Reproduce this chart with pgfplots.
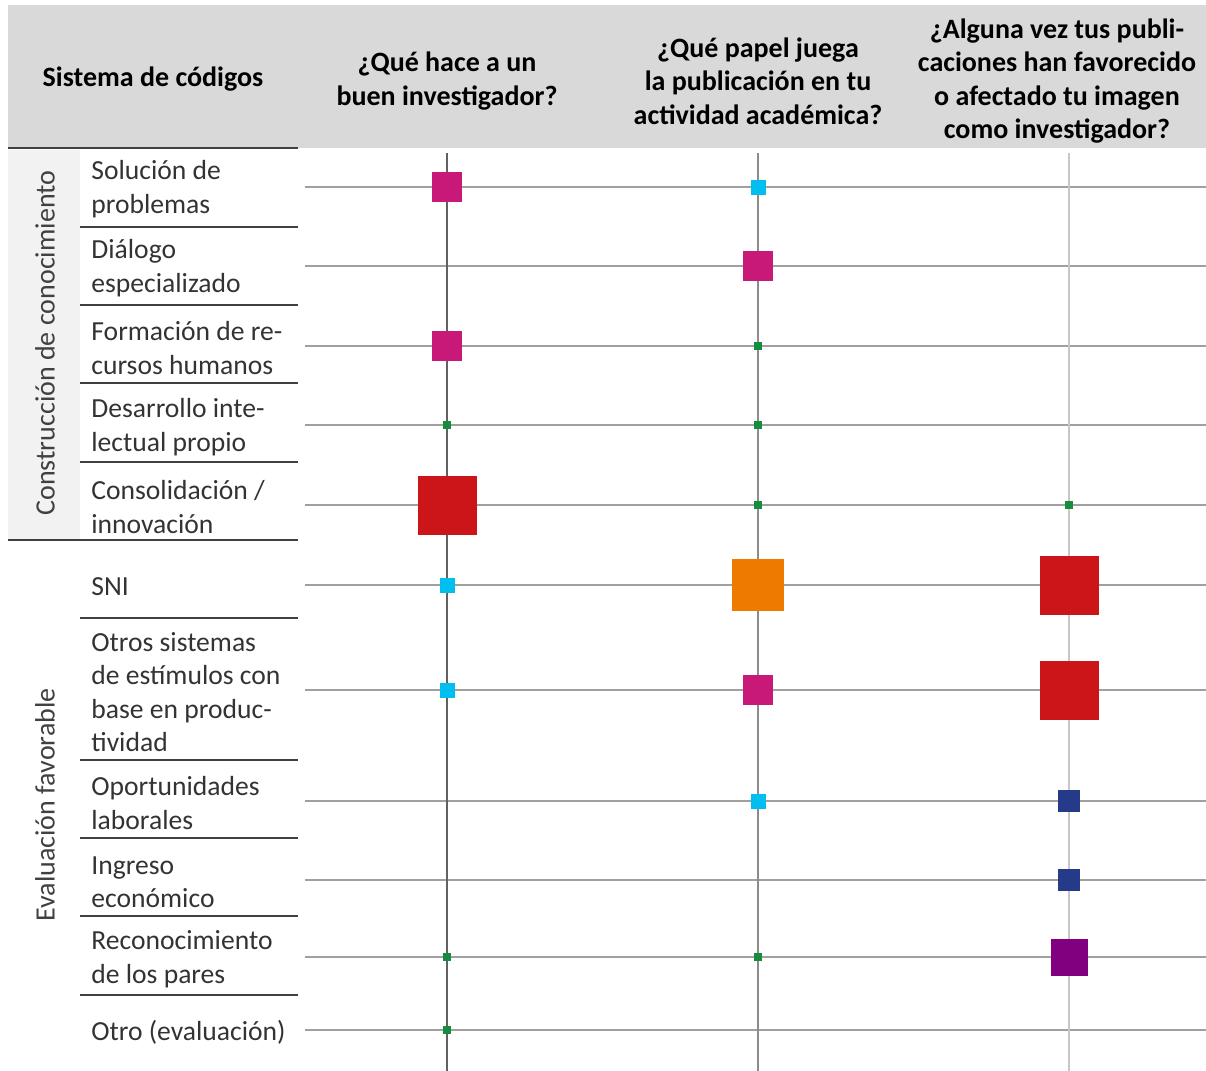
\documentclass[border=0pt]{standalone}
\usepackage{pgfplots}
\usepackage{pgfplotstable}
\usepackage{fontspec}
\setmainfont{Carlito}
\pgfplotsset{compat=1.18}

\definecolor{hdrgray}{RGB}{217,217,217}
\definecolor{grpgray}{RGB}{242,242,242}
\definecolor{sepcol}{RGB}{64,64,64}
\definecolor{gridcol}{RGB}{160,160,160}
\definecolor{cgreen}{RGB}{22,140,62}
\definecolor{ccyan}{RGB}{0,190,240}
\definecolor{cnavy}{RGB}{38,58,138}
\definecolor{cmagenta}{RGB}{200,24,120}
\definecolor{cpurple}{RGB}{128,0,128}
\definecolor{corange}{RGB}{238,122,0}
\definecolor{cred}{RGB}{204,21,24}

% col = question (1-3), ypos = row position, cls = size class of the square
\pgfplotstableread{
col ypos cls
1 187 m
2 187 c
2 266 m
1 346 m
2 346 g
1 425 g
2 425 g
1 505 r
2 505 g
3 505 g
1 585 c
2 585 o
3 585 r
1 690 c
2 690 m
3 690 r
2 801 c
3 801 n
3 880 n
1 957 g
2 957 g
3 957 p
1 1030 g
}\codedata

\begin{document}
\begin{tikzpicture}
\begin{axis}[
  set layers=standard,
  scale only axis, width=450.5pt, height=461.5pt,
  xmin=0.5434, xmax=3.4405,
  ymin=148, ymax=1071, y dir=reverse,
  clip=false,
  axis line style={draw=none},
  major tick length=0pt,
  xticklabel pos=upper,
  xtick={1,2},
  xticklabels={
    {¿Qué hace a un\\buen investigador?},
    {¿Qué papel juega\\la publicación en tu\\actividad académica?}},
  extra x ticks={3},
  extra x tick labels={{¿Alguna vez tus publi-\\caciones han favorecido\\o afectado tu imagen\\como investigador?}},
  extra x tick style={grid=none, xticklabel style={xshift=-6pt}},
  ytick={187,266,346,425,505,585,690,801,880,957,1030},
  yticklabels={
    {Solución de\\problemas},
    {Diálogo\\especializado},
    {Formación de re-\\cursos humanos},
    {Desarrollo inte-\\lectual propio},
    {Consolidación /\\innovación},
    {SNI},
    {Otros sistemas\\de estímulos con\\base en produc-\\tividad},
    {Oportunidades\\laborales},
    {Ingreso\\económico},
    {Reconocimiento\\de los pares},
    {Otro (evaluación)}},
  ymajorgrids,
  grid style={gridcol, line width=0.7pt},
  xticklabel style={font=\fontsize{14}{16.75}\selectfont\bfseries, align=center,
    anchor=center, yshift=33.5pt},
  yticklabel style={font=\fontsize{13.8}{16.75}\selectfont, align=left,
    anchor=west, inner sep=0pt, xshift=-107pt, yshift=-1pt, text=black!80},
]
% header band and group column
\begin{pgfonlayer}{axis background}
\fill[hdrgray] (axis cs:-0.4116,5) rectangle (axis cs:3.4405,148);
\fill[grpgray] (axis cs:-0.4116,150) rectangle (axis cs:-0.1801,540);
\end{pgfonlayer}
% column lines
\begin{pgfonlayer}{axis grid}
\draw[black!62, line width=0.75pt] (axis cs:1,153) -- (axis cs:1,1071);
\draw[black!45, line width=0.75pt] (axis cs:2,153) -- (axis cs:2,1071);
\draw[black!22, line width=0.75pt] (axis cs:3,153) -- (axis cs:3,1071);
\end{pgfonlayer}
\coordinate (bbsw) at (axis cs:-0.4373,1071);
\coordinate (bbne) at (axis cs:3.4405,0);

\node[font=\fontsize{14}{16.75}\selectfont\bfseries] at (axis cs:0.0547,79) {Sistema de códigos};
\node[rotate=90, font=\fontsize{14}{16.75}\selectfont, text=black!75] at (axis cs:-0.2926,343) {Construcción de conocimiento};
\node[rotate=90, font=\fontsize{14}{16.75}\selectfont, text=black!75] at (axis cs:-0.2926,805) {Evaluación favorable};

% row separators
\draw[sepcol, line width=1pt] (axis cs:-0.4116,148) -- (axis cs:0.5209,148);
\draw[sepcol, line width=1pt] (axis cs:-0.4116,540) -- (axis cs:0.5209,540);
\pgfplotsinvokeforeach{227,305,383,462,618,760,838,916,995}{
  \draw[sepcol, line width=1pt] (axis cs:-0.1801,#1) -- (axis cs:0.5209,#1);
}

\addplot[scatter, only marks, scatter src=explicit symbolic,
  scatter/classes={
    g={mark=square*, mark size=1.75pt, cgreen},
    c={mark=square*, mark size=3.5pt, ccyan},
    n={mark=square*, mark size=5.25pt, cnavy},
    m={mark=square*, mark size=7.25pt, cmagenta},
    p={mark=square*, mark size=9pt, cpurple},
    o={mark=square*, mark size=12.75pt, corange},
    r={mark=square*, mark size=14.5pt, cred}}
  ] table[x=col, y=ypos, meta=cls] {\codedata};
\end{axis}
\pgfresetboundingbox
\useasboundingbox (bbsw) rectangle (bbne);
\end{tikzpicture}
\end{document}
